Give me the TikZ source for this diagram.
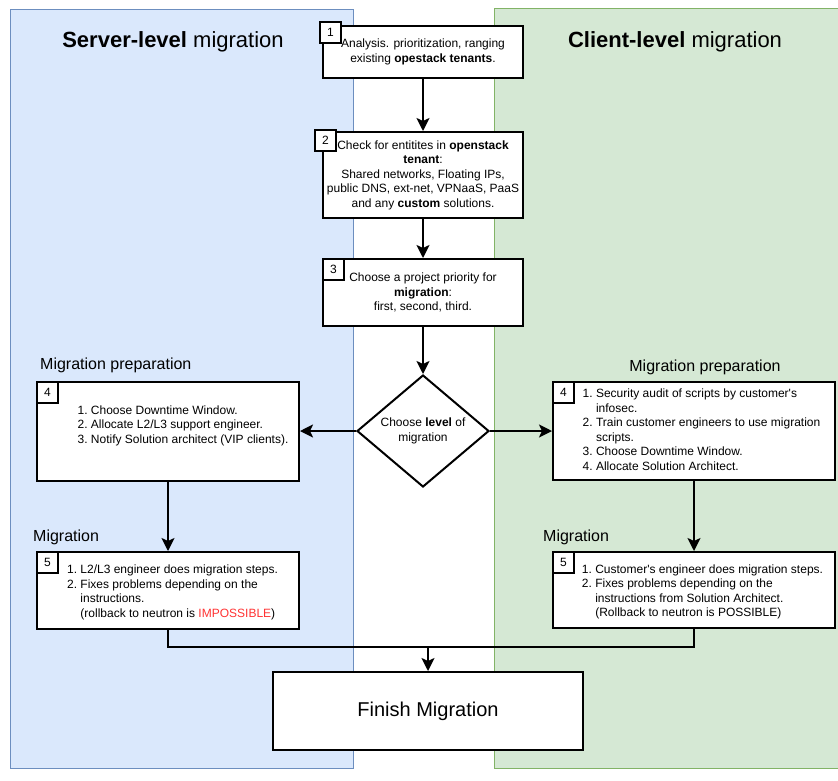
\documentclass[tikz,border=0pt]{standalone}
\usepackage{fontspec}
\setmainfont{Liberation Sans}
\usetikzlibrary{arrows.meta,positioning,shapes.geometric,calc}

\definecolor{serverfill}{HTML}{DAE8FC}
\definecolor{serverline}{HTML}{6C8EBF}
\definecolor{clientfill}{HTML}{D5E8D4}
\definecolor{clientline}{HTML}{82B366}
\definecolor{impred}{HTML}{FF3333}

\tikzset{
  stepbox/.style={draw, line width=2pt, fill=white, inner sep=0pt},
  badge/.style={draw, line width=2pt, fill=white, minimum size=21pt, inner sep=0pt, anchor=north west},
  flow/.style={line width=2pt, -{Stealth[length=13pt,width=13pt,inset=3pt]}},
  mergeline/.style={line width=2pt},
  lanetitle/.style={font=\fontsize{22}{26}\selectfont, anchor=base},
  phase/.style={font=\fontsize{16}{19}\selectfont, inner sep=0pt},
}

\begin{document}
\begin{tikzpicture}[x=1pt, y=-1pt, font=\fontsize{12}{14.5}\selectfont]
    \useasboundingbox (0,0) rectangle (838,780);

    % Lanes
    \draw[fill=serverfill, draw=serverline] (10,9) rectangle (353,768);
    \fill[clientfill] (494,8) rectangle (838,768);
    \draw[clientline] (838,8) -- (494,8) -- (494,768) -- (838,768);
    \node[lanetitle] (srvtitle) at (173,47) {\textbf{Server-level} migration};
    \node[lanetitle] (clttitle) at (675,47) {\textbf{Client-level} migration};

    % Step 1
    \node[stepbox, minimum width=200pt, minimum height=52pt, align=center] (s1) at (423,52)
        {Analysis. prioritization, ranging\\existing \textbf{opestack tenants}.};
    \node[badge, xshift=-3pt, yshift=4pt] (b1) at (s1.north west) {1};

    % Step 2
    \node[stepbox, minimum width=200pt, minimum height=86pt, align=center] (s2) at (423,175)
        {Check for entitites in \textbf{openstack}\\\textbf{tenant}:\\Shared networks, Floating IPs,\\public DNS, ext-net, VPNaaS, PaaS\\and any \textbf{custom} solutions.};
    \node[badge, xshift=-8pt, yshift=2pt] (b2) at (s2.north west) {2};

    % Step 3
    \node[stepbox, minimum width=200pt, minimum height=67pt, align=center] (s3) at (423,292.5)
        {Choose a project priority for\\\textbf{migration}:\\first, second, third.};
    \node[badge] (b3) at (s3.north west) {3};

    % Decision
    \node[draw, diamond, line width=2pt, fill=white, inner sep=0pt, aspect=1.18,
          minimum width=132pt, minimum height=112pt, align=center] (dia) at (423,431)
        {Choose \textbf{level} of\\migration};

    % Server side: preparation
    \node[phase, anchor=base west] (srvprep) at (40,369) {Migration preparation};
    \node[stepbox, minimum width=262pt, minimum height=99pt] (s4l) at (168,431) {};
    \node[badge] (b4l) at (s4l.north west) {4};
    \node (s4ltxt) at ($(s4l.center)+(15,-5)$) {%
        \begin{tabular}{@{}r@{~}l@{}}
        1. & Choose Downtime Window.\\
        2. & Allocate L2/L3 support engineer.\\
        3. & Notify Solution architect (VIP clients).
        \end{tabular}};

    % Client side: preparation
    \node[phase, anchor=base] (cltprep) at (705,371) {Migration preparation};
    \node[stepbox, minimum width=282pt, minimum height=98pt] (s4r) at (694,431) {};
    \node[badge] (b4r) at (s4r.north west) {4};
    \node (s4rtxt) at ($(s4r.center)+(7.5,0)$) {%
        \begin{tabular}{@{}r@{~}l@{}}
        1. & Security audit of scripts by customer\textquotesingle s\\
           & infosec.\\
        2. & Train customer engineers to use migration\\
           & scripts.\\
        3. & Choose Downtime Window.\\
        4. & Allocate Solution Architect.
        \end{tabular}};

    % Server side: migration
    \node[phase, anchor=base west] (srvmig) at (33,541) {Migration};
    \node[stepbox, minimum width=262pt, minimum height=77pt] (s5l) at (168,590.5) {};
    \node[badge] (b5l) at (s5l.north west) {5};
    \node (s5ltxt) at ($(s5l.center)+(4.5,2)$) {%
        \begin{tabular}{@{}r@{~}l@{}}
        1. & L2/L3 engineer does migration steps.\\
        2. & Fixes problems depending on the\\
           & instructions.\\
           & (rollback to neutron is \textcolor{impred}{IMPOSSIBLE})
        \end{tabular}};

    % Client side: migration
    \node[phase, anchor=base west] (cltmig) at (543,541) {Migration};
    \node[stepbox, minimum width=282pt, minimum height=76pt] (s5r) at (694,590) {};
    \node[badge] (b5r) at (s5r.north west) {5};
    \node (s5rtxt) at ($(s5r.center)+(8.5,2)$) {%
        \begin{tabular}{@{}r@{~}l@{}}
        1. & Customer\textquotesingle s engineer does migration steps.\\
        2. & Fixes problems depending on the\\
           & instructions from Solution Architect.\\
           & (Rollback to neutron is POSSIBLE)
        \end{tabular}};

    % Finish
    \node[stepbox, minimum width=310pt, minimum height=78pt, font=\fontsize{20}{24}\selectfont] (finish) at (428,711) {\raisebox{-2pt}{Finish Migration}};

    \draw[flow] (s1) -- (s2);
    \draw[flow] (s2) -- (s3);
    \draw[flow] (s3) -- (dia);
    \draw[flow] (dia) -- (s4l);
    \draw[flow] (dia) -- (s4r);
    \draw[flow] (s4l) -- (s5l);
    \draw[flow] (s4r) -- (s5r);
    \coordinate (merge) at ($(finish.north)+(0,-24)$);
    \draw[mergeline] (s5l.south) |- (merge);
    \draw[mergeline] (s5r.south) |- (merge);
    \draw[flow] (merge) -- (finish.north);
\end{tikzpicture}
\end{document}
